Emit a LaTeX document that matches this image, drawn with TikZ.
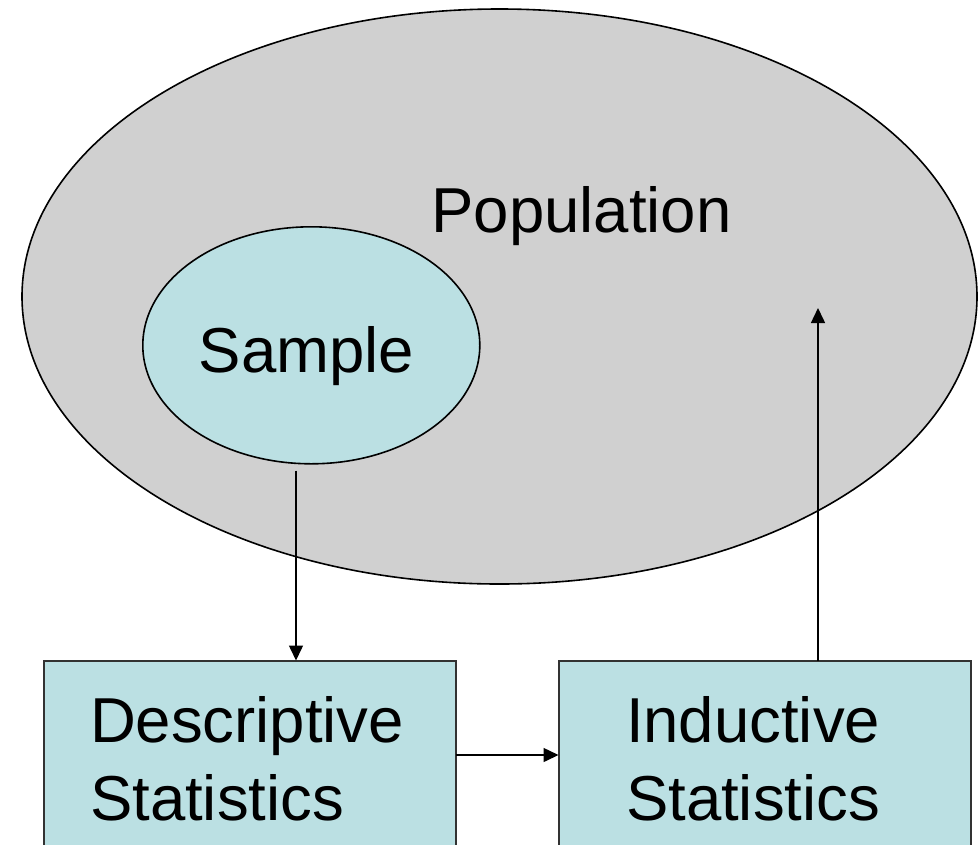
\documentclass[tikz,border=0pt]{standalone}
\usepackage{fontspec}
\setmainfont{Liberation Sans}
\usetikzlibrary{shapes.geometric,arrows.meta}
\definecolor{popfill}{RGB}{208,208,208}
\definecolor{sampfill}{RGB}{187,224,227}
\definecolor{boxline}{RGB}{50,50,50}
\begin{document}
\begin{tikzpicture}[x=1pt,y=-1pt,
  popshape/.style={ellipse,draw=black,line width=1.6pt,fill=popfill,inner sep=0pt,outer sep=0pt},
  sampshape/.style={ellipse,draw=black,line width=1.6pt,fill=sampfill,inner sep=0pt,outer sep=0pt},
  statbox/.style={rectangle,draw=boxline,line width=2pt,fill=sampfill,inner sep=0pt,outer sep=0pt,anchor=north west},
  lbl/.style={inner sep=0pt,outer sep=0pt,font=\fontsize{63.5}{78}\selectfont},
  arr/.style={draw=black,line width=1.5pt,-{Triangle[length=15pt,width=14pt]}}]
\clip (0,0) rectangle (979,844);
\fill[white] (0,0) rectangle (979,844);
\node[popshape,minimum width=955pt,minimum height=575pt] (pop) at (499.5,296.5) {};
\node[sampshape,minimum width=337pt,minimum height=237pt] (samp) at (311.3,345.3) {};
\node[lbl,anchor=base] (poptext) at (581.5,232) {Population};
\node[lbl,anchor=base] (samptext) at (306.5,372) {Sample};
\node[statbox,minimum width=412pt,minimum height=300pt] (desc) at (44,660.5) {};
\node[statbox,minimum width=412pt,minimum height=300pt] (ind) at (558.5,660.5) {};
\node[lbl,anchor=base west,align=left] (desctext) at (90,820) {Descriptive\\Statistics};
\node[lbl,anchor=base west,align=left] (indtext) at (626,820) {Inductive\\Statistics};
\coordinate (a1) at (296,470.5);
\coordinate (a2) at (456,755);
\coordinate (a3) at (818,308);
\draw[arr] (a1) -- (a1 |- desc.north);
\draw[arr] (a2) -- (a2 -| ind.west);
\draw[arr] (a3 |- ind.north) -- (a3);
\end{tikzpicture}
\end{document}
